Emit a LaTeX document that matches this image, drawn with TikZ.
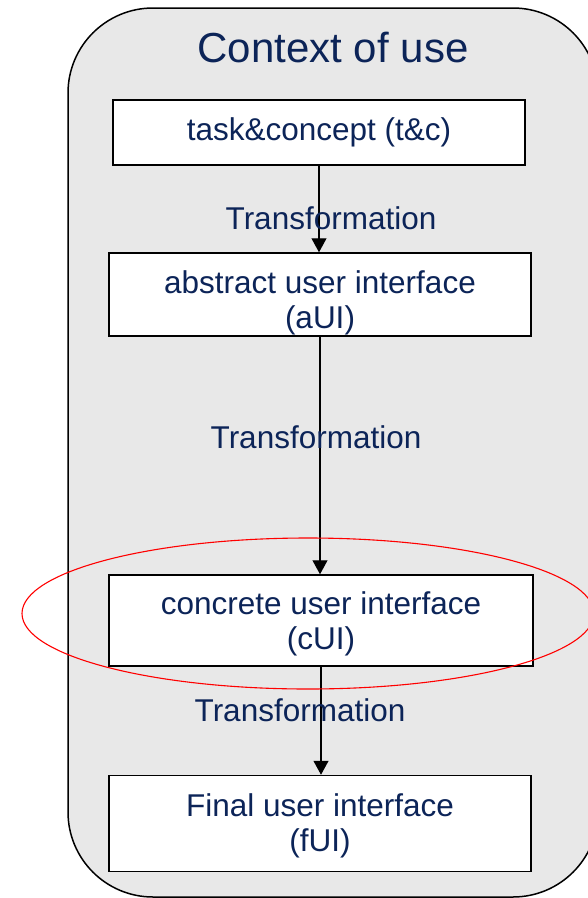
\documentclass[tikz,border=0pt]{standalone}
\usepackage{fontspec}
\setmainfont{Liberation Sans}
\usetikzlibrary{arrows.meta}
\usetikzlibrary{positioning}

\definecolor{navytext}{RGB}{12,36,88}
\definecolor{framegrey}{RGB}{232,232,232}
\newcommand{\dropline}[1]{\rule{0pt}{#1}}

\begin{document}
\begin{tikzpicture}[x=1pt,y=-1pt,
        uibox/.style={draw=black,line width=1.5pt,fill=white,align=center,
            text=navytext,font=\fontsize{31.5}{35}\selectfont,inner sep=0pt},
        trlabel/.style={text=navytext,font=\fontsize{31.5}{35}\selectfont,inner sep=0pt},
        flow/.style={line width=1.2pt,-{Triangle[length=14pt,width=15pt]}}]%
        \useasboundingbox (0,0) rectangle (588,898);
        \clip (0,0) rectangle (588,898);
        % context frame
        \draw[line width=1.5pt,fill=framegrey,rounded corners=85pt] (68,8) rectangle (598,897);
        \node[text=navytext,font=\fontsize{42}{46}\selectfont,inner sep=0pt] (ctx) at (333,48) {Context of use};
        % the four levels
        \node[uibox,minimum width=412pt,minimum height=65pt] (tc) at (319,132.5) {task\&concept (t\&c)};
        \node[uibox,minimum width=422pt,minimum height=83pt] (aui) at (320,294.5) {\dropline{39pt}abstract user interface\\(aUI)};
        \node[uibox,minimum width=424pt,minimum height=91pt] (cui) at (321,620.5) {\dropline{29pt}concrete user interface\\(cUI)};
        \node[uibox,minimum width=422pt,minimum height=96pt] (fui) at (320,823.5) {\dropline{27pt}Final user interface\\(fUI)};
        % transformations
        \draw[flow] (tc.south) -- (tc.south |- aui.north);
        \draw[flow] (aui.south) -- (aui.south |- cui.north);
        \draw[flow] (cui.south) -- (cui.south |- fui.north);
        \node[trlabel] (tr1) at (331,218) {Transformation};
        \node[trlabel] (tr2) at (316,437) {Transformation};
        \node[trlabel] (tr3) at (300,710) {Transformation};
        % highlight
        \draw[red,line width=1.1pt] (308,613.5) ellipse [x radius=286pt,y radius=75.5pt];
    \end{tikzpicture}
\end{document}
